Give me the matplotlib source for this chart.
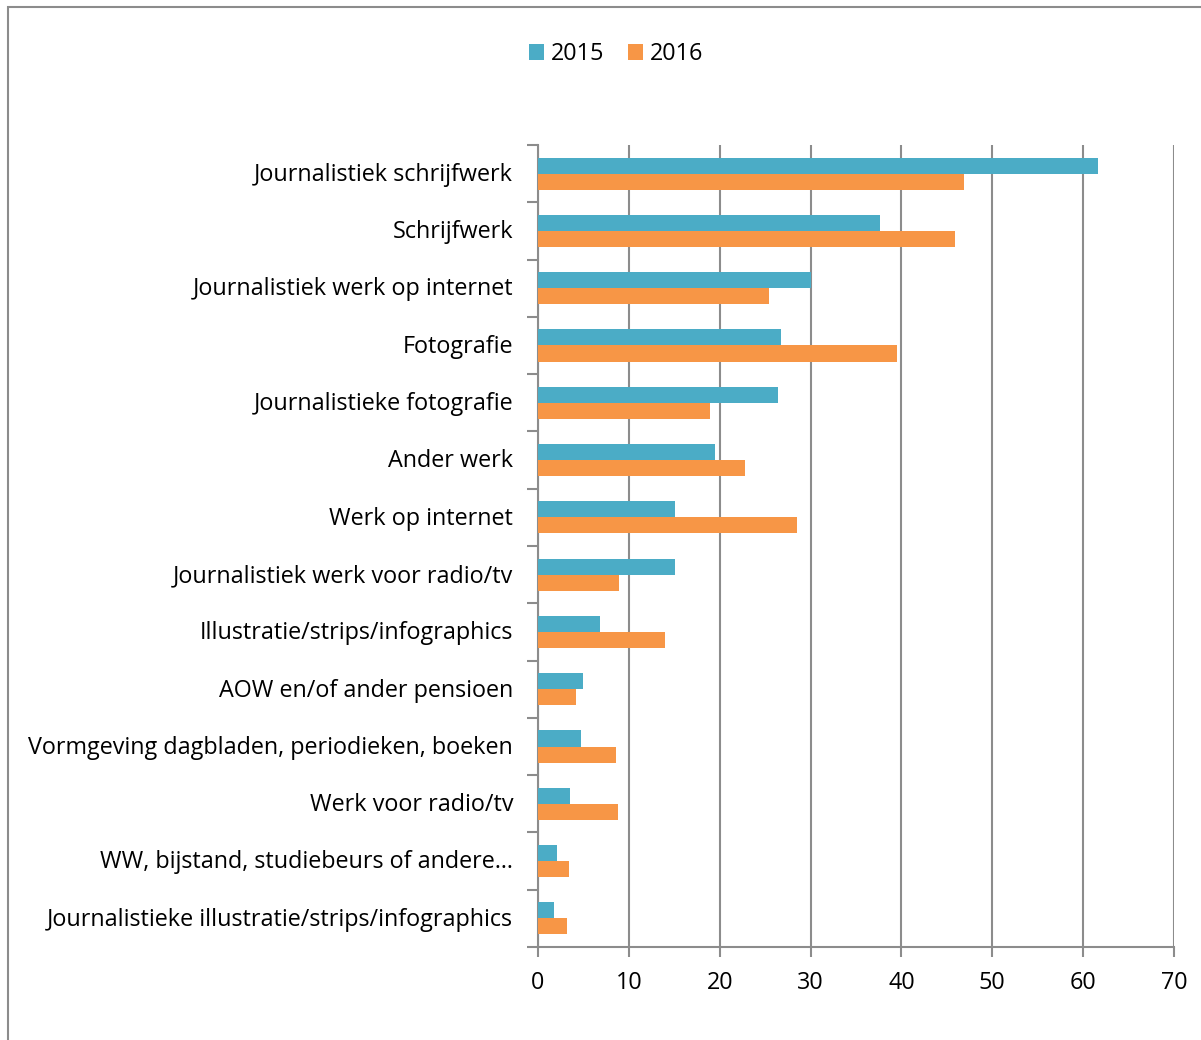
import numpy as np
import matplotlib.pyplot as plt
from matplotlib.patches import Patch, Rectangle

# Categories (top to bottom) and shares per year
categories = [
    "Journalistiek schrijfwerk",
    "Schrijfwerk",
    "Journalistiek werk op internet",
    "Fotografie",
    "Journalistieke fotografie",
    "Ander werk",
    "Werk op internet",
    "Journalistiek werk voor radio/tv",
    "Illustratie/strips/infographics",
    "AOW en/of ander pensioen",
    "Vormgeving dagbladen, periodieken, boeken",
    "Werk voor radio/tv",
    "WW, bijstand, studiebeurs of andere…",
    "Journalistieke illustratie/strips/infographics",
]
vals_2015 = [61.6, 37.6, 30.0, 26.7, 26.4, 19.5, 15.1, 15.1, 6.8, 5.0, 4.7, 3.5, 2.1, 1.8]
vals_2016 = [46.9, 45.9, 25.4, 39.5, 18.9, 22.8, 28.5, 8.9, 14.0, 4.2, 8.6, 8.8, 3.4, 3.2]
years = ["2015", "2016"]
xticks = [0, 10, 20, 30, 40, 50, 60, 70]

C2015 = "#4BACC6"
C2016 = "#F79646"
GRID = "#8c8c8c"
FS = 16.8

plt.rcParams["font.family"] = ["Open Sans", "DejaVu Sans"]

fig = plt.figure(figsize=(12.01, 10.4), dpi=100)
ax = fig.add_axes([0.448, 0.0894, 0.5295, 0.7712])

y = np.arange(len(categories))
h = 0.28
ax.barh(y - h / 2, vals_2015, height=h, color=C2015, zorder=3)
ax.barh(y + h / 2, vals_2016, height=h, color=C2016, zorder=3)

ax.set_xlim(0, 70)
ax.set_ylim(len(categories) - 0.5, -0.5)
ax.set_xticks(xticks)
ax.set_xticklabels([str(t) for t in xticks], fontsize=FS)

# category labels centred, tick marks on the boundaries
ax.set_yticks(y - 0.03)
ax.set_yticklabels(categories, fontsize=FS)
ax.tick_params(axis="y", which="major", length=0, pad=18)
ax.set_yticks(np.arange(len(categories) + 1) - 0.5, minor=True)
ax.tick_params(axis="y", which="minor", length=8, width=1.5, color=GRID, direction="out")
ax.tick_params(axis="x", length=7, width=1.5, color=GRID, direction="out", pad=10)

ax.grid(axis="x", color=GRID, linewidth=1.5, zorder=0)
for side in ["top", "right"]:
    ax.spines[side].set_visible(False)
for side in ["left", "bottom"]:
    ax.spines[side].set_color(GRID)
    ax.spines[side].set_linewidth(1.5)

handles = [Patch(facecolor=C2015), Patch(facecolor=C2016)]
fig.legend(handles, years, loc="center", bbox_to_anchor=(0.513, 0.948), ncol=2,
           frameon=False, fontsize=FS, handlelength=0.65, handleheight=0.65,
           handletextpad=0.3, columnspacing=1.0)

# outer chart frame
fig.patches.append(Rectangle((0.007, -0.02), 1.1, 1.013, transform=fig.transFigure,
                             fill=False, edgecolor="#8c8c8c", linewidth=1.5))

fig.savefig("out.png", dpi=100, facecolor="white")
